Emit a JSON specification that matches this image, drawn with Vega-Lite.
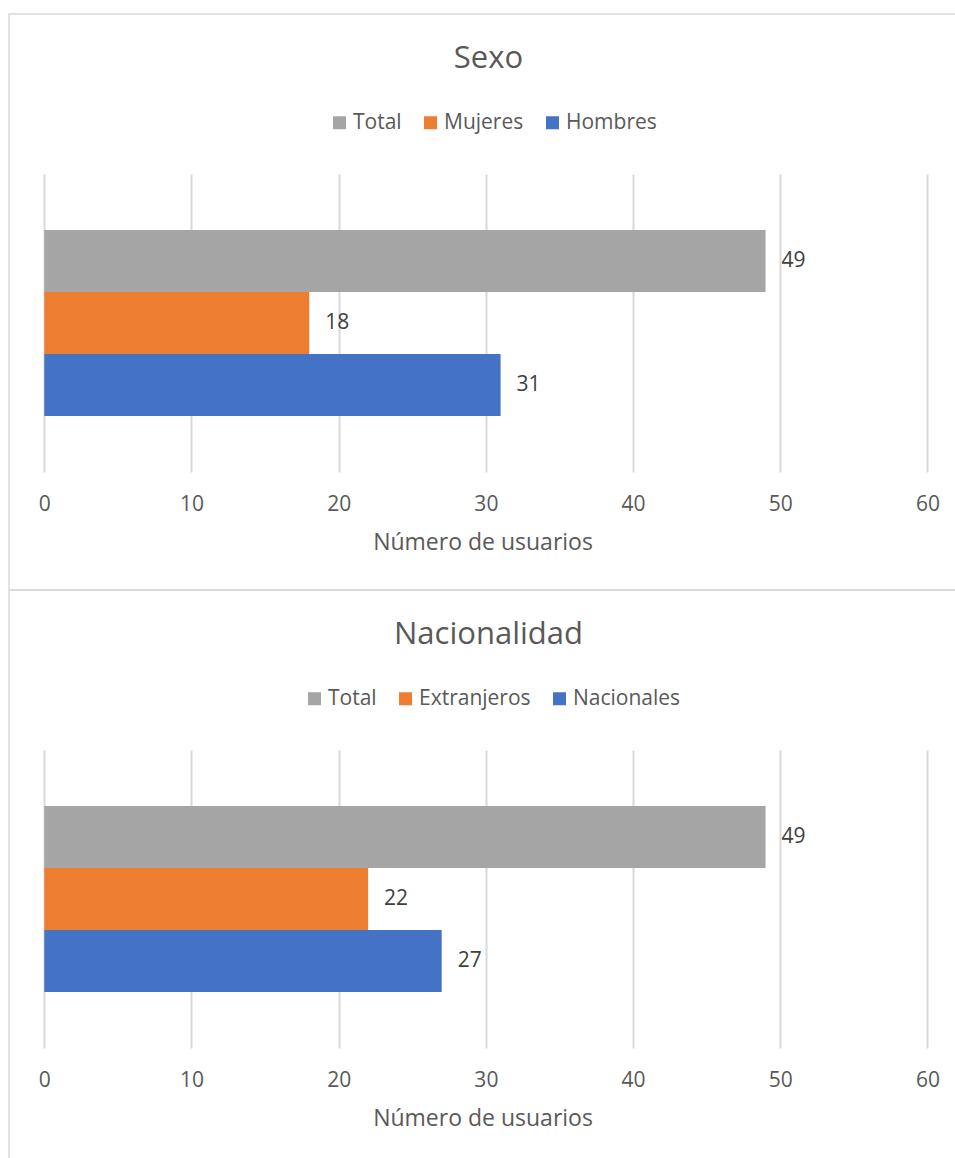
{
  "$schema": "https://vega.github.io/schema/vega-lite/v6.json",
  "padding": {"left": 8, "top": 13, "right": 0, "bottom": 0},
  "bounds": "flush",
  "spacing": 0,
  "config": {
    "font": "Open Sans",
    "view": {"stroke": "#d9d9d9", "strokeWidth": 1.5},
    "axis": {
      "labelFont": "Open Sans",
      "titleFont": "Open Sans",
      "labelFontSize": 21,
      "labelColor": "#595959",
      "titleFontSize": 23,
      "titleFontWeight": "normal",
      "titleColor": "#595959",
      "domain": false,
      "grid": false,
      "ticks": true,
      "tickColor": "#d9d9d9",
      "tickWidth": 2,
      "tickSize": -298,
      "labelPadding": 319,
      "titlePadding": 17,
      "labelFlush": false,
      "labelOverlap": false
    },
    "legend": {
      "labelFont": "Open Sans",
      "labelFontSize": 21,
      "labelColor": "#595959",
      "labelOffset": 3,
      "columnPadding": 18,
      "padding": 0,
      "symbolType": "square",
      "symbolSize": 169,
      "symbolStrokeWidth": 0,
      "symbolOpacity": 1
    },
    "title": {
      "font": "Open Sans",
      "fontSize": 31,
      "fontWeight": "normal",
      "color": "#595959",
      "anchor": "middle",
      "baseline": "alphabetic",
      "offset": -61,
      "dx": 6
    }
  },
  "resolve": {
    "scale": {"x": "independent", "y": "independent", "color": "independent"},
    "legend": {"color": "independent"}
  },
  "vconcat": [
    {
      "width": 947,
      "height": 576,
      "title": {"text": "Sexo"},
      "data": {"values": [
        {"serie": "Total", "usuarios": 49},
        {"serie": "Mujeres", "usuarios": 18},
        {"serie": "Hombres", "usuarios": 31}
      ]},
      "encoding": {
        "y": {"field": "serie", "type": "nominal", "sort": ["Total", "Mujeres", "Hombres"],
              "scale": {"range": [160, 458], "paddingInner": 0, "paddingOuter": 0.903}, "axis": null},
        "x": {"field": "usuarios", "type": "quantitative",
              "scale": {"domain": [-2.398, 61.94], "nice": false, "zero": false},
              "axis": {"values": [0, 10, 20, 30, 40, 50, 60], "orient": "bottom", "offset": -118, "title": "Número de usuarios"}}
      },
      "layer": [
        {
          "mark": {"type": "bar"},
          "encoding": {
            "x2": {"datum": 0},
            "color": {"field": "serie", "type": "nominal",
                      "scale": {"domain": ["Total", "Mujeres", "Hombres"], "range": ["#a5a5a5", "#ed7d31", "#4472c4"]},
                      "legend": {"orient": "none", "legendX": 320, "legendY": 98, "direction": "horizontal", "title": null}}
          }
        },
        {
          "mark": {"type": "text", "align": "left", "baseline": "middle", "dx": 16, "fontSize": 21, "color": "#404040", "font": "Open Sans"},
          "encoding": {"text": {"field": "usuarios", "type": "quantitative"}}
        }
      ]
    },
    {
      "width": 947,
      "height": 569,
      "title": {"text": "Nacionalidad"},
      "data": {"values": [
        {"serie": "Total", "usuarios": 49},
        {"serie": "Extranjeros", "usuarios": 22},
        {"serie": "Nacionales", "usuarios": 27}
      ]},
      "encoding": {
        "y": {"field": "serie", "type": "nominal", "sort": ["Total", "Extranjeros", "Nacionales"],
              "scale": {"range": [160, 458], "paddingInner": 0, "paddingOuter": 0.903}, "axis": null},
        "x": {"field": "usuarios", "type": "quantitative",
              "scale": {"domain": [-2.398, 61.94], "nice": false, "zero": false},
              "axis": {"values": [0, 10, 20, 30, 40, 50, 60], "orient": "bottom", "offset": -111, "title": "Número de usuarios"}}
      },
      "layer": [
        {
          "mark": {"type": "bar"},
          "encoding": {
            "x2": {"datum": 0},
            "color": {"field": "serie", "type": "nominal",
                      "scale": {"domain": ["Total", "Extranjeros", "Nacionales"], "range": ["#a5a5a5", "#ed7d31", "#4472c4"]},
                      "legend": {"orient": "none", "legendX": 295, "legendY": 98, "direction": "horizontal", "title": null}}
          }
        },
        {
          "mark": {"type": "text", "align": "left", "baseline": "middle", "dx": 16, "fontSize": 21, "color": "#404040", "font": "Open Sans"},
          "encoding": {"text": {"field": "usuarios", "type": "quantitative"}}
        }
      ]
    }
  ]
}
